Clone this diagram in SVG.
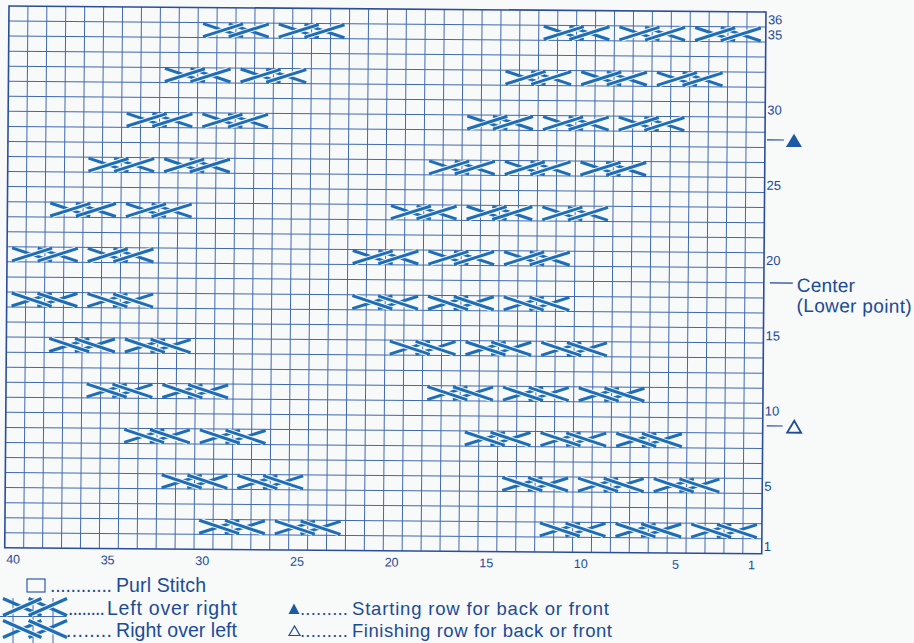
<svg xmlns="http://www.w3.org/2000/svg" xmlns:xlink="http://www.w3.org/1999/xlink" width="914" height="643" viewBox="0 0 914 643">
<style>
.grid{fill:none;stroke:#3f69b2;stroke-width:1}
.border{fill:none;stroke:#2a4d9e;stroke-width:1.6}
.s{fill:none;stroke:#1e6db7;stroke-width:3}
.h{fill:none;stroke:#f8f9f9;stroke-width:5}
.ls{fill:none;stroke:#1e6db7;stroke-width:3.2}
.lh{fill:none;stroke:#f8f9f9;stroke-width:5.4}
.num{font-family:"Liberation Sans",Arial,sans-serif;font-size:13px;fill:#1c4b97}
.cnum{font-family:"Liberation Sans",Arial,sans-serif;font-size:12.5px;fill:#1c4b97;text-anchor:middle}
.lbl{font-family:"Liberation Sans",Arial,sans-serif;font-size:19px;fill:#1c4b97}
.leg{font-family:"Liberation Sans",Arial,sans-serif;font-size:19.5px;fill:#1c4b97}
.leg2{font-family:"Liberation Sans",Arial,sans-serif;font-size:18.5px;fill:#1c4b97}
.mk{stroke:#1c4b97;stroke-width:1.2;fill:none}
</style>
<defs>
<g id="lor">
<path class="s" d="M5 -6.5L45 6.5M30.7 -6.5L70.7 6.5"/>
<path class="h" d="M7.2 5.8L42.8 -5.8M32.9 5.8L68.5 -5.8"/>
<path class="s" d="M5 6.5L45 -6.5M30.7 6.5L70.7 -6.5"/>
</g>
<g id="rol">
<path class="s" d="M5 6.5L45 -6.5M30.7 6.5L70.7 -6.5"/>
<path class="h" d="M7.2 -5.8L42.8 5.8M32.9 -5.8L68.5 5.8"/>
<path class="s" d="M5 -6.5L45 6.5M30.7 -6.5L70.7 6.5"/>
</g>
</defs>
<rect x="0" y="0" width="914" height="643" fill="#f8f9f9"/>
<g id="chart" transform="translate(9,6) rotate(0.45)">
<g id="grid">
<path class="grid" d="M18.925 0V541.8M37.85 0V541.8M56.775 0V541.8M75.7 0V541.8M94.625 0V541.8M113.55 0V541.8M132.475 0V541.8M151.4 0V541.8M170.325 0V541.8M189.25 0V541.8M208.175 0V541.8M227.1 0V541.8M246.025 0V541.8M264.95 0V541.8M283.875 0V541.8M302.8 0V541.8M321.725 0V541.8M340.65 0V541.8M359.575 0V541.8M378.5 0V541.8M397.425 0V541.8M416.35 0V541.8M435.275 0V541.8M454.2 0V541.8M473.125 0V541.8M492.05 0V541.8M510.975 0V541.8M529.9 0V541.8M548.825 0V541.8M567.75 0V541.8M586.675 0V541.8M605.6 0V541.8M624.525 0V541.8M643.45 0V541.8M662.375 0V541.8M681.3 0V541.8M700.225 0V541.8M719.15 0V541.8M738.075 0V541.8"/>
<path class="grid" d="M0 15.05H757M0 30.1H757M0 45.15H757M0 60.2H757M0 75.25H757M0 90.3H757M0 105.35H757M0 120.4H757M0 135.45H757M0 150.5H757M0 165.55H757M0 180.6H757M0 195.65H757M0 210.7H757M0 225.75H757M0 240.8H757M0 255.85H757M0 270.9H757M0 285.95H757M0 301H757M0 316.05H757M0 331.1H757M0 346.15H757M0 361.2H757M0 376.25H757M0 391.3H757M0 406.35H757M0 421.4H757M0 436.45H757M0 451.5H757M0 466.55H757M0 481.6H757M0 496.65H757M0 511.7H757M0 526.75H757"/>
<rect class="border" x="0" y="0" width="757" height="541.8"/>
</g>
<g id="cables">
<use href="#lor" x="189.25" y="22.575"/><use href="#lor" x="264.95" y="22.575"/><use href="#lor" x="529.9" y="22.575"/><use href="#lor" x="605.6" y="22.575"/><use href="#lor" x="681.3" y="22.575"/>
<use href="#lor" x="151.4" y="67.725"/><use href="#lor" x="227.1" y="67.725"/><use href="#lor" x="492.05" y="67.725"/><use href="#lor" x="567.75" y="67.725"/><use href="#lor" x="643.45" y="67.725"/>
<use href="#lor" x="113.55" y="112.875"/><use href="#lor" x="189.25" y="112.875"/><use href="#lor" x="454.2" y="112.875"/><use href="#lor" x="529.9" y="112.875"/><use href="#lor" x="605.6" y="112.875"/>
<use href="#lor" x="75.7" y="158.025"/><use href="#lor" x="151.4" y="158.025"/><use href="#lor" x="416.35" y="158.025"/><use href="#lor" x="492.05" y="158.025"/><use href="#lor" x="567.75" y="158.025"/>
<use href="#lor" x="37.85" y="203.175"/><use href="#lor" x="113.55" y="203.175"/><use href="#lor" x="378.5" y="203.175"/><use href="#lor" x="454.2" y="203.175"/><use href="#lor" x="529.9" y="203.175"/>
<use href="#lor" x="0" y="248.325"/><use href="#lor" x="75.7" y="248.325"/><use href="#lor" x="340.65" y="248.325"/><use href="#lor" x="416.35" y="248.325"/><use href="#lor" x="492.05" y="248.325"/>
<use href="#rol" x="0" y="293.475"/><use href="#rol" x="75.7" y="293.475"/><use href="#rol" x="340.65" y="293.475"/><use href="#rol" x="416.35" y="293.475"/><use href="#rol" x="492.05" y="293.475"/>
<use href="#rol" x="37.85" y="338.625"/><use href="#rol" x="113.55" y="338.625"/><use href="#rol" x="378.5" y="338.625"/><use href="#rol" x="454.2" y="338.625"/><use href="#rol" x="529.9" y="338.625"/>
<use href="#rol" x="75.7" y="383.775"/><use href="#rol" x="151.4" y="383.775"/><use href="#rol" x="416.35" y="383.775"/><use href="#rol" x="492.05" y="383.775"/><use href="#rol" x="567.75" y="383.775"/>
<use href="#rol" x="113.55" y="428.925"/><use href="#rol" x="189.25" y="428.925"/><use href="#rol" x="454.2" y="428.925"/><use href="#rol" x="529.9" y="428.925"/><use href="#rol" x="605.6" y="428.925"/>
<use href="#rol" x="151.4" y="474.075"/><use href="#rol" x="227.1" y="474.075"/><use href="#rol" x="492.05" y="474.075"/><use href="#rol" x="567.75" y="474.075"/><use href="#rol" x="643.45" y="474.075"/>
<use href="#rol" x="189.25" y="519.225"/><use href="#rol" x="264.95" y="519.225"/><use href="#rol" x="529.9" y="519.225"/><use href="#rol" x="605.6" y="519.225"/><use href="#rol" x="681.3" y="519.225"/>
</g>
<g id="row-numbers">
<text class="num" x="759" y="12.3">36</text>
<text class="num" x="759" y="27.4">35</text>
<text class="num" x="759" y="102.6">30</text>
<text class="num" x="759" y="177.9">25</text>
<text class="num" x="759" y="253.1">20</text>
<text class="num" x="759" y="328.4">15</text>
<text class="num" x="759" y="403.6">10</text>
<text class="num" x="759" y="478.9">5</text>
<text class="num" x="759" y="539.1">1</text>
</g>
<g id="col-numbers">
<text class="cnum" x="8.5" y="557.5">40</text>
<text class="cnum" x="103" y="557.5">35</text>
<text class="cnum" x="197.7" y="557.5">30</text>
<text class="cnum" x="292.3" y="557.5">25</text>
<text class="cnum" x="387" y="557.5">20</text>
<text class="cnum" x="481.6" y="557.5">15</text>
<text class="cnum" x="576.2" y="557.5">10</text>
<text class="cnum" x="670.8" y="557.5">5</text>
<text class="cnum" x="747" y="557.5">1</text>
</g>
<g id="start-marker">
<path class="mk" d="M759 127.9H776"/>
<polygon points="786,121.5 778,134.8 794,134.8" fill="#1c5aa6"/>
</g>
<g id="center-marker">
<path class="mk" d="M763 270.9H786"/>
<text class="lbl" x="790" y="279.5" textLength="58">Center</text>
<text class="lbl" x="790" y="299.8" textLength="115">(Lower point)</text>
</g>
<g id="finish-marker">
<path class="mk" d="M761 413.9H777"/>
<polygon points="788.5,408.5 781.5,420.5 795.5,420.5" fill="none" stroke="#1c4b97" stroke-width="1.8"/>
</g>
</g>
<g id="legend">
<g id="leg-purl">
<rect x="27" y="579" width="18" height="13" fill="none" stroke="#2d5ca8" stroke-width="1.2"/>
<text class="leg" x="50" y="592" textLength="62">............</text>
<text class="leg" x="116" y="592" textLength="90">Purl Stitch</text>
</g>
<g id="leg-grid">
<path class="grid" d="M13 598V643M33 598V643M53 598V643M0 616.5H66"/>
</g>
<g id="leg-lor">
<path class="ls" d="M3 598.5L41.4 615.5M28.6 598.5L67 615.5"/>
<path class="lh" d="M5.5 614.4L38.9 599.6M31.1 614.4L64.5 599.6"/>
<path class="ls" d="M3 615.5L41.4 598.5M28.6 615.5L67 598.5"/>
<text class="leg" x="68" y="615" textLength="37">........</text>
<text class="leg" x="107" y="615" textLength="130">Left over right</text>
</g>
<g id="leg-rol">
<path class="ls" d="M3 637.5L41.4 620.5M28.6 637.5L67 620.5"/>
<path class="lh" d="M5.5 621.6L38.9 636.4M31.1 621.6L64.5 636.4"/>
<path class="ls" d="M3 620.5L41.4 637.5M28.6 620.5L67 637.5"/>
<text class="leg" x="66" y="636.7" textLength="46">........</text>
<text class="leg" x="116" y="636.7" textLength="121">Right over left</text>
</g>
<g id="leg-start">
<polygon points="294,603.5 288.5,614 299.5,614" fill="#1c5aa6"/>
<text class="leg2" x="300" y="614.5" textLength="48">.........</text>
<text class="leg2" x="352" y="614.5" textLength="257">Starting row for back or front</text>
</g>
<g id="leg-finish">
<polygon points="294.5,626 289,635.5 300,635.5" fill="none" stroke="#1c4b97" stroke-width="1.2"/>
<text class="leg2" x="300" y="636.5" textLength="48">.........</text>
<text class="leg2" x="352" y="636.5" textLength="260">Finishing row for back or front</text>
</g>
</g>
</svg>
